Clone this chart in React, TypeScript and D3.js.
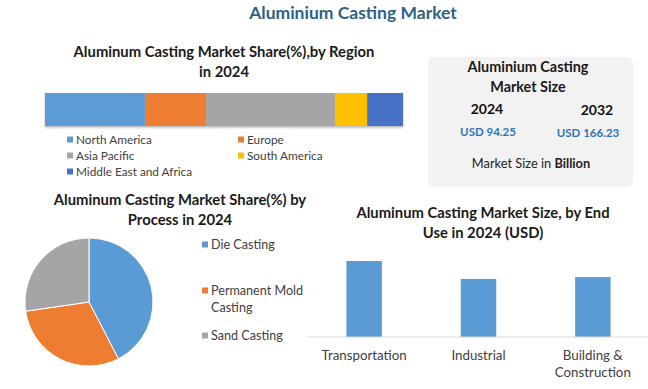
import { useEffect, useRef } from 'react';
import * as d3 from 'd3';

// Region share (%), 2024
const regions = ['North America', 'Europe', 'Asia Pacific', 'South America', 'Middle East and Africa'];
const regionShare = [28, 17, 36, 9, 10];
const regionColors = ['#5b9bd5', '#ed7d31', '#a5a5a5', '#ffc000', '#4472c4'];

// Process share (%), 2024
const processes = ['Die Casting', 'Permanent Mold Casting', 'Sand Casting'];
const processShare = [42.4, 30.3, 27.3];
const processColors = ['#5b9bd5', '#ed7d31', '#a5a5a5'];

// End use size (USD bn), 2024
const endUses = ['Transportation', 'Industrial', 'Building & Construction'];
const endUseValues = [36.9, 28.2, 29.1];

const FONT = 'Lato, "Open Sans", sans-serif';

export default function App() {
  const svgRef = useRef<SVGSVGElement>(null);

  useEffect(() => {
    if (!svgRef.current) return;
    const svg = d3.select(svgRef.current);
    svg.selectAll('*').remove();
    svg.style('font-family', FONT);

    const title = (x: number, y: number, lines: string[], size = 14.8, color = '#1a1a1a') => {
      lines.forEach((l, i) => {
        svg.append('text')
          .attr('x', x).attr('y', y + i * 19.5)
          .attr('text-anchor', 'middle')
          .attr('font-size', size).attr('font-weight', 'bold')
          .attr('fill', color)
          .text(l);
      });
    };

    // main title
    title(353, 19, ['Aluminium Casting Market'], 17.5, '#2e5f8a');

    // ---- stacked region bar ----
    title(224, 57, ['Aluminum Casting Market Share(%),by Region', 'in 2024']);

    const defs = svg.append('defs');
    const f = defs.append('filter').attr('id', 'shadow').attr('x', '-5%').attr('y', '-20%').attr('width', '110%').attr('height', '150%');
    f.append('feDropShadow').attr('dx', 0).attr('dy', 1.5).attr('stdDeviation', 1.2).attr('flood-color', '#000').attr('flood-opacity', 0.3);

    const total = d3.sum(regionShare);
    const xs = d3.scaleLinear().domain([0, total]).range([45, 403]);
    const cum = d3.cumsum(regionShare);
    const gBar = svg.append('g').attr('filter', 'url(#shadow)');
    gBar.selectAll('rect')
      .data(regionShare)
      .join('rect')
      .attr('x', (d, i) => xs(cum[i] - d))
      .attr('y', 93)
      .attr('width', d => xs(d) - xs(0))
      .attr('height', 33)
      .attr('fill', (d, i) => regionColors[i]);

    const legPos = [[67, 144], [238, 144], [67, 160], [238, 160], [67, 176]];
    regions.forEach((r, i) => {
      const [lx, ly] = legPos[i];
      svg.append('rect').attr('x', lx).attr('y', ly - 7.5).attr('width', 6).attr('height', 6).attr('fill', regionColors[i]);
      svg.append('text').attr('x', lx + 9).attr('y', ly).attr('font-size', 11.8).attr('fill', '#404040').text(r);
    });

    // ---- market size box ----
    svg.append('rect')
      .attr('x', 428).attr('y', 57).attr('width', 205).attr('height', 130)
      .attr('rx', 6).attr('fill', '#f2f2f2');
    title(528, 72, ['Aluminium Casting', 'Market Size'], 14.4);
    svg.append('text').attr('x', 487).attr('y', 114).attr('text-anchor', 'middle')
      .attr('font-size', 14).attr('font-weight', 'bold').attr('fill', '#111').text('2024');
    svg.append('text').attr('x', 597).attr('y', 115).attr('text-anchor', 'middle')
      .attr('font-size', 14).attr('font-weight', 'bold').attr('fill', '#111').text('2032');
    svg.append('text').attr('x', 488).attr('y', 136).attr('text-anchor', 'middle')
      .attr('font-size', 11.5).attr('font-weight', 'bold').attr('fill', '#2e75b6').text('USD 94.25');
    svg.append('text').attr('x', 588).attr('y', 137).attr('text-anchor', 'middle')
      .attr('font-size', 11.5).attr('font-weight', 'bold').attr('fill', '#2e75b6').text('USD 166.23');
    const ms = svg.append('text').attr('x', 531).attr('y', 168).attr('text-anchor', 'middle')
      .attr('font-size', 12.8).attr('fill', '#222');
    ms.append('tspan').text('Market Size in ');
    ms.append('tspan').attr('font-weight', 'bold').text('Billion');

    // ---- pie ----
    title(180, 205, ['Aluminum Casting Market Share(%) by', 'Process in 2024']);
    const pie = d3.pie<number>().sort(null)(processShare);
    const arc = d3.arc<d3.PieArcDatum<number>>().innerRadius(0).outerRadius(64);
    svg.append('g').attr('transform', 'translate(89,302)')
      .selectAll('path')
      .data(pie)
      .join('path')
      .attr('d', arc)
      .attr('fill', (d, i) => processColors[i])
      .attr('stroke', '#fff')
      .attr('stroke-width', 1);

    const pLeg = [[249, ['Die Casting']], [295, ['Permanent Mold', 'Casting']], [340, ['Sand Casting']]] as [number, string[]][];
    pLeg.forEach(([ly, lines], i) => {
      svg.append('rect').attr('x', 202).attr('y', ly - 7.5).attr('width', 6).attr('height', 6).attr('fill', processColors[i]);
      lines.forEach((l, j) => {
        svg.append('text').attr('x', 211).attr('y', ly + j * 16.5).attr('font-size', 12.6).attr('fill', '#404040').text(l);
      });
    });

    // ---- end use bars ----
    title(483, 218, ['Aluminum Casting Market Size, by End', 'Use in 2024  (USD)']);
    const x = d3.scaleBand().domain(endUses).range([307, 650]).paddingInner(0.69).paddingOuter(0.345);
    const y = d3.scaleLinear().domain([0, 45]).range([337, 337 - 92.7]);
    svg.append('g').selectAll('rect')
      .data(endUseValues)
      .join('rect')
      .attr('x', (d, i) => x(endUses[i]) || 0)
      .attr('y', d => y(d))
      .attr('width', x.bandwidth())
      .attr('height', d => y(0) - y(d))
      .attr('fill', '#5b9bd5');
    svg.append('line').attr('x1', 307).attr('x2', 648).attr('y1', 337).attr('y2', 337)
      .attr('stroke', '#d9d9d9').attr('stroke-width', 1);
    endUses.forEach(c => {
      const cx = (x(c) || 0) + x.bandwidth() / 2;
      const lines = c === 'Building & Construction' ? ['Building &', 'Construction'] : [c];
      lines.forEach((l, j) => {
        svg.append('text').attr('x', cx).attr('y', 360 + j * 17).attr('text-anchor', 'middle')
          .attr('font-size', 13.3).attr('fill', '#404040').text(l);
      });
    });
  }, []);

  return (
    <svg
      ref={svgRef}
      width={648}
      height={389}
      style={{ position: 'absolute', left: 0, top: 0, background: '#fff' }}
    />
  );
}
